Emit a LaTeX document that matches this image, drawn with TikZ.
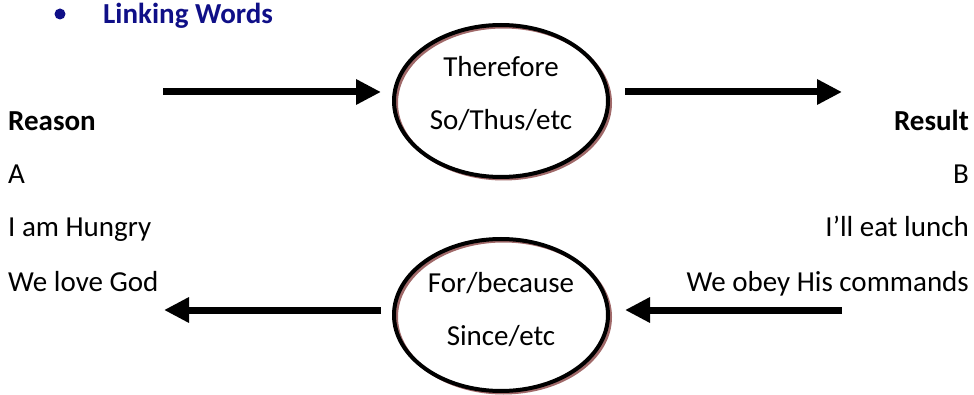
\documentclass[tikz,border=0pt]{standalone}
\usepackage{fontspec}
\setmainfont{Carlito}
\usepackage{tikz}
\usetikzlibrary{arrows.meta,shapes.geometric}

\begin{document}
\begin{tikzpicture}[x=1pt,y=-1pt,
  word/.style={inner sep=0pt,font=\fontsize{29}{35}\selectfont},
  linker/.style={ellipse,draw=black,line width=4pt,minimum width=214pt,minimum height=152pt,inner sep=0pt},
  rimline/.style={draw=rim,line width=3pt},
  fat/.style={line width=7pt,-{Triangle[length=25pt,width=24pt]}}]
  \definecolor{heading}{RGB}{15,15,135};
  \definecolor{rim}{RGB}{160,105,105};
  \useasboundingbox (0,0) rectangle (974,395);
  % heading
  \fill[heading] (60,14) circle (5.5);
  \node[word,anchor=base west,font=\fontsize{29}{35}\selectfont\bfseries,text=heading] (title) at (103,24) {Linking Words};
  % the two linkers
  \coordinate (c1) at (501,101);
  \coordinate (c2) at (501,315);
  \draw[rimline] ([shift={(2.5pt,-2pt)}]c1) ellipse [x radius=107pt, y radius=76pt];
  \draw[rimline] ([shift={(2.5pt,-2pt)}]c2) ellipse [x radius=107pt, y radius=76pt];
  \node[linker] (therefore) at (c1) {};
  \node[linker] (since) at (c2) {};
  \node[word,anchor=base] (thereforeA) at (501,77) {Therefore};
  \node[word,anchor=base] (thereforeB) at (501,130) {So/Thus/etc};
  \node[word,anchor=base] (sinceA) at (501,292) {For/because};
  \node[word,anchor=base] (sinceB) at (501,345) {Since/etc};
  % reason column
  \node[word,anchor=base west,font=\fontsize{29}{35}\selectfont\bfseries] (reason) at (8,131) {Reason};
  \node[word,anchor=base west] (a) at (8,184) {A};
  \node[word,anchor=base west] (hungry) at (8,237) {I am Hungry};
  \node[word,anchor=base west] (god) at (8,291) {We love God};
  % result column
  \node[word,anchor=base east,font=\fontsize{29}{35}\selectfont\bfseries] (result) at (969,131) {Result};
  \node[word,anchor=base east] (b) at (969,184) {B};
  \node[word,anchor=base east] (lunch) at (969,237) {I’ll eat lunch};
  \node[word,anchor=base east] (obey) at (969,291) {We obey His commands};
  % arrows
  \coordinate (s1) at (163,92);
  \coordinate (s2) at (842,92);
  \coordinate (s3) at (164,310);
  \coordinate (s4) at (842,310);
  \draw[fat,shorten >=11pt] (s1) -- (therefore.west |- s1);
  \draw[fat,shorten <=15pt] (therefore.east |- s2) -- (s2);
  \draw[fat,shorten <=11pt] (since.west |- s3) -- (s3);
  \draw[fat,shorten >=15pt] (s4) -- (since.east |- s4);
\end{tikzpicture}
\end{document}
